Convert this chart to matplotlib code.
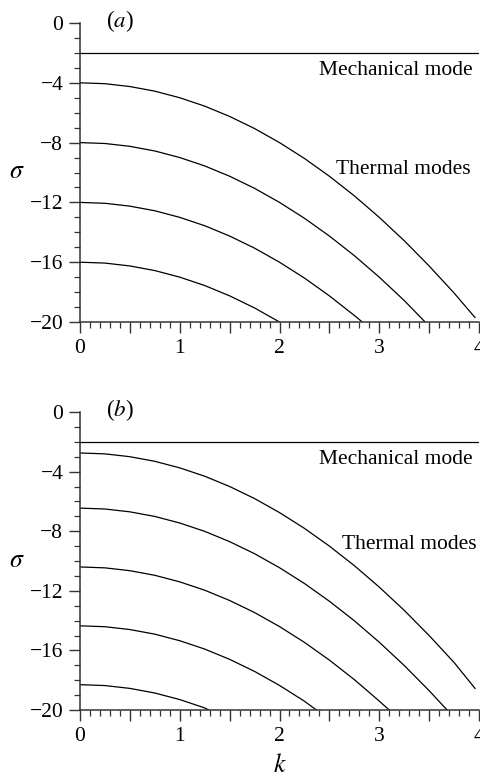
import numpy as np
import matplotlib
matplotlib.use("Agg")
import matplotlib.pyplot as plt
from matplotlib.ticker import MultipleLocator, FuncFormatter

plt.rcParams['font.family'] = ['Liberation Serif', 'DejaVu Serif']
plt.rcParams['mathtext.fontset'] = 'stix'

# Wavenumber grid used when reading the curves off the picture
k_grid = [0, 0.25, 0.5, 0.75, 1, 1.25, 1.5, 1.75, 2, 2.25, 2.5, 2.75,
          3, 3.25, 3.5, 3.75]

# Panel (a): mechanical mode and four thermal modes
mech_a = -2.0
a_k_end = [3.96, 3.46, 2.83, 2.0]
a_s_end = [-19.7, -20.0, -20.0, -20.0]
a_modes = [
    [-4, -4.06, -4.25, -4.56, -5, -5.56, -6.25, -7.06, -8, -9.06, -10.25,
     -11.56, -13, -14.56, -16.25, -18.06],
    [-8, -8.06, -8.25, -8.56, -9, -9.56, -10.25, -11.06, -12, -13.06,
     -14.25, -15.56, -17, -18.56],
    [-12, -12.06, -12.25, -12.56, -13, -13.56, -14.25, -15.06, -16, -17.06,
     -18.25, -19.56],
    [-16, -16.06, -16.25, -16.56, -17, -17.56, -18.25, -19.06],
]

# Panel (b): mechanical mode and five thermal modes
mech_b = -2.0
b_k_end = [3.96, 3.68, 3.1, 2.37, 1.29]
b_s_end = [-18.55, -20.0, -20.0, -20.0, -20.0]
b_modes = [
    [-2.75, -2.81, -3.0, -3.31, -3.75, -4.31, -5.0, -5.81, -6.75, -7.81,
     -9.0, -10.31, -11.75, -13.31, -15.0, -16.81],
    [-6.45, -6.51, -6.7, -7.01, -7.45, -8.01, -8.7, -9.51, -10.45, -11.51,
     -12.7, -14.01, -15.45, -17.01, -18.7],
    [-10.4, -10.46, -10.65, -10.96, -11.4, -11.96, -12.65, -13.46, -14.4,
     -15.46, -16.65, -17.96, -19.4],
    [-14.35, -14.41, -14.6, -14.91, -15.35, -15.91, -16.6, -17.41, -18.35,
     -19.41],
    [-18.3, -18.36, -18.55, -18.86, -19.3, -19.86],
]

FS = 15.5


def draw_panel(ax, mech, modes, k_end, s_end, tag, mech_y, therm_xy):
	ax.plot([0, 4], [mech, mech], color='black', lw=0.9)
	for vals, ke, se in zip(modes, k_end, s_end):
		ks = k_grid[:len(vals)] + [ke]
		ss = vals + [se]
		ax.plot(ks, ss, color='black', lw=0.9)

	ax.set_xlim(0, 4)
	ax.set_ylim(-20, 0)
	ax.spines['top'].set_visible(False)
	ax.spines['right'].set_visible(False)
	for s in ['left', 'bottom']:
		ax.spines[s].set_linewidth(1.1)
		ax.spines[s].set_color('#333333')

	ax.xaxis.set_major_locator(MultipleLocator(0.5))
	ax.xaxis.set_minor_locator(MultipleLocator(0.1))
	ax.xaxis.set_major_formatter(FuncFormatter(
		lambda v, p: '%d' % v if abs(v - round(v)) < 1e-6 else ''))
	ax.yaxis.set_major_locator(MultipleLocator(4))
	ax.yaxis.set_minor_locator(MultipleLocator(1))
	ax.yaxis.set_major_formatter(FuncFormatter(
		lambda v, p: ('\u2212%d' % -v) if v < 0 else '%d' % v))
	ax.tick_params(which='major', length=8, width=1.0, labelsize=FS,
	               pad=4, color='#333333')
	ax.tick_params(which='minor', length=4.5, width=0.9, color='#333333')

	ax.text(3.94, mech_y, 'Mechanical mode', fontsize=FS, ha='right',
	        va='center')
	ax.text(therm_xy[0], therm_xy[1], 'Thermal modes', fontsize=FS,
	        ha='right', va='center')
	ax.text(0.26, 0.1, '($\\it{%s}$)' % tag, fontsize=FS + 1, ha='left',
	        va='center')
	ax.set_ylabel('$\\sigma$', fontsize=FS + 3, rotation=0, labelpad=9,
	              va='center')


fig = plt.figure(figsize=(4.81, 7.77), dpi=100)
ax1 = fig.add_axes([80 / 481, 1 - 322 / 777, 399 / 481, 299 / 777])
ax2 = fig.add_axes([80 / 481, 1 - 710 / 777, 399 / 481, 298 / 777])

draw_panel(ax1, mech_a, a_modes, a_k_end, a_s_end, 'a', -3.15, (3.92, -9.8))
draw_panel(ax2, mech_b, b_modes, b_k_end, b_s_end, 'b', -3.2, (3.98, -8.9))
ax2.set_xlabel('$k$', fontsize=FS + 3, labelpad=6)

fig.savefig('out.png', dpi=100)
